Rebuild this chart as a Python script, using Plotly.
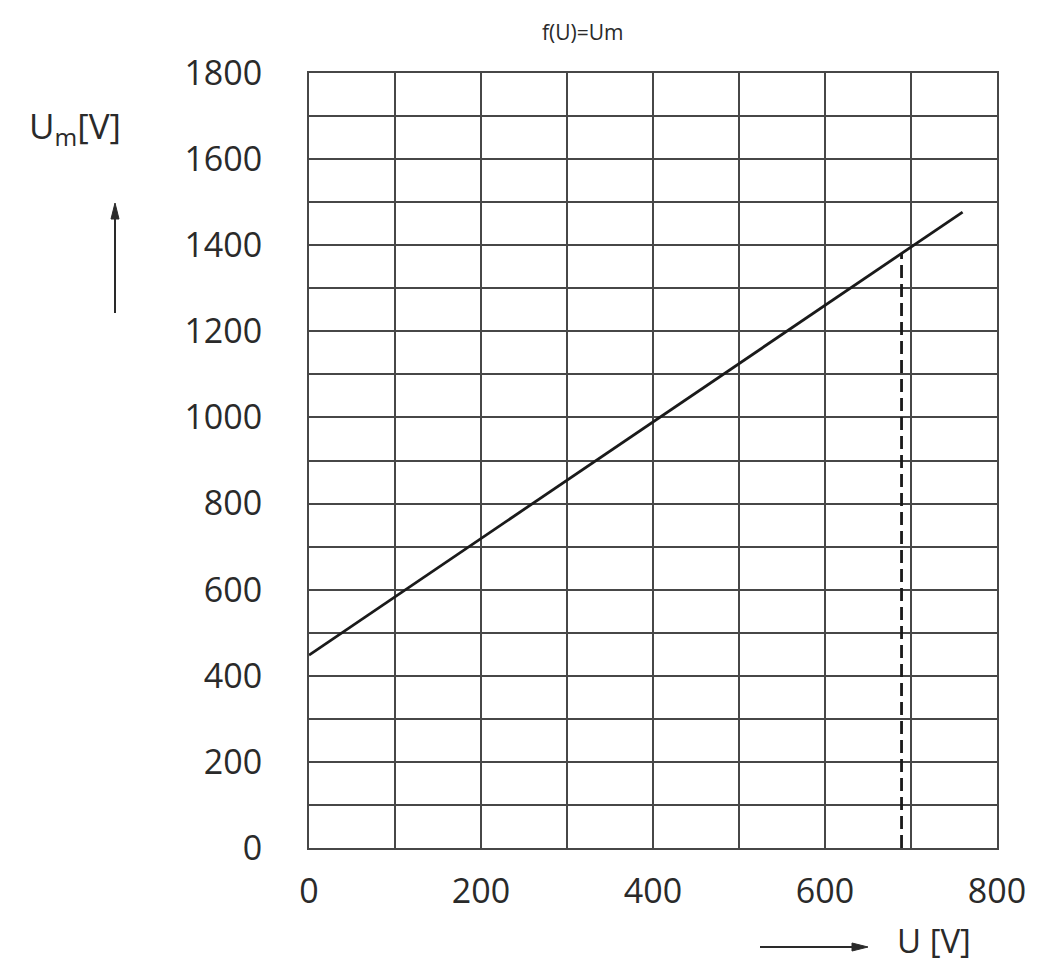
import plotly.graph_objects as go

# Data
U_line = [0, 760]
Um_line = [448, 1477]
U_mark = [689, 689]
Um_mark = [0, 1381]
x_ticks = [0, 200, 400, 600, 800]
y_ticks = [0, 200, 400, 600, 800, 1000, 1200, 1400, 1600, 1800]

FONT = "Open Sans"
INK = "#2a2a2a"
GRID = "#474747"

# plot area size in pixels (for converting arrow geometry into paper units)
PW, PH = 688, 775

fig = go.Figure()
fig.add_trace(go.Scatter(x=U_line, y=Um_line, mode="lines",
                         line=dict(color="#1a1a1a", width=2.8), showlegend=False))
fig.add_trace(go.Scatter(x=U_mark, y=Um_mark, mode="lines",
                         line=dict(color="#1a1a1a", width=2.8, dash="13px,6px"), showlegend=False))

axis_common = dict(
    showline=True, mirror=True, linecolor=GRID, linewidth=2,
    showgrid=True, gridcolor=GRID, gridwidth=1.6,
    zeroline=False, ticks="",
    tickfont=dict(family=FONT, size=34, color=INK),
)
fig.update_xaxes(range=[0, 800], tickvals=x_ticks, ticktext=[str(v) for v in x_ticks],
                 minor=dict(dtick=100, tick0=0, showgrid=True, gridcolor=GRID, gridwidth=1.6),
                 ticklabelstandoff=12, **axis_common)
fig.update_yaxes(range=[0, 1800], tickvals=y_ticks, ticktext=[str(v) for v in y_ticks],
                 minor=dict(dtick=100, tick0=0, showgrid=True, gridcolor=GRID, gridwidth=1.6),
                 ticklabelstandoff=38, **axis_common)


def px(dx):
    return dx / PW


def py(dy):
    return dy / PH


# Arrow geometry (paper units)
shapes = []
# up arrow at left
ux, uy_tail, uy_head = px(115 - 309), py(848 - 313), py(848 - 203)
shapes.append(dict(type="line", xref="paper", yref="paper", x0=ux, x1=ux,
                   y0=uy_tail, y1=uy_head - py(10), line=dict(color=INK, width=2)))
shapes.append(dict(type="path", xref="paper", yref="paper",
                   path=f"M {ux - px(4)} {uy_head - py(16)} L {ux} {uy_head} L {ux + px(4)} {uy_head - py(16)} Z",
                   fillcolor=INK, line=dict(color=INK, width=1)))
# right arrow at bottom
ry, rx_tail, rx_head = py(848 - 947), px(760 - 309), px(868 - 309)
shapes.append(dict(type="line", xref="paper", yref="paper", x0=rx_tail, x1=rx_head - px(10),
                   y0=ry, y1=ry, line=dict(color=INK, width=2)))
shapes.append(dict(type="path", xref="paper", yref="paper",
                   path=f"M {rx_head - px(16)} {ry - py(4)} L {rx_head} {ry} L {rx_head - px(16)} {ry + py(4)} Z",
                   fillcolor=INK, line=dict(color=INK, width=1)))

annotations = [
    dict(text="f(U)=Um", x=px(583 - 309), y=py(848 - 32), xref="paper", yref="paper",
         xanchor="center", yanchor="middle", showarrow=False,
         font=dict(family="Liberation Sans Narrow, Arial Narrow, " + FONT, size=21, color=INK)),
    dict(text="U<sub>m</sub>[V]", x=px(75 - 309), y=py(848 - 128), xref="paper", yref="paper",
         xanchor="center", yanchor="middle", showarrow=False,
         font=dict(family=FONT, size=35, color=INK)),
    dict(text="U [V]", x=px(934 - 309), y=py(848 - 940), xref="paper", yref="paper",
         xanchor="center", yanchor="middle", showarrow=False,
         font=dict(family=FONT, size=33, color=INK)),
]

# page body has an 8px margin; compensate so the plot lands at the reference pixels
fig.update_layout(
    width=1032, height=956,
    margin=dict(l=301, r=43, t=65, b=116),
    paper_bgcolor="white", plot_bgcolor="white",
    annotations=annotations,
    shapes=shapes,
    showlegend=False,
)

fig.write_html("out.html")
